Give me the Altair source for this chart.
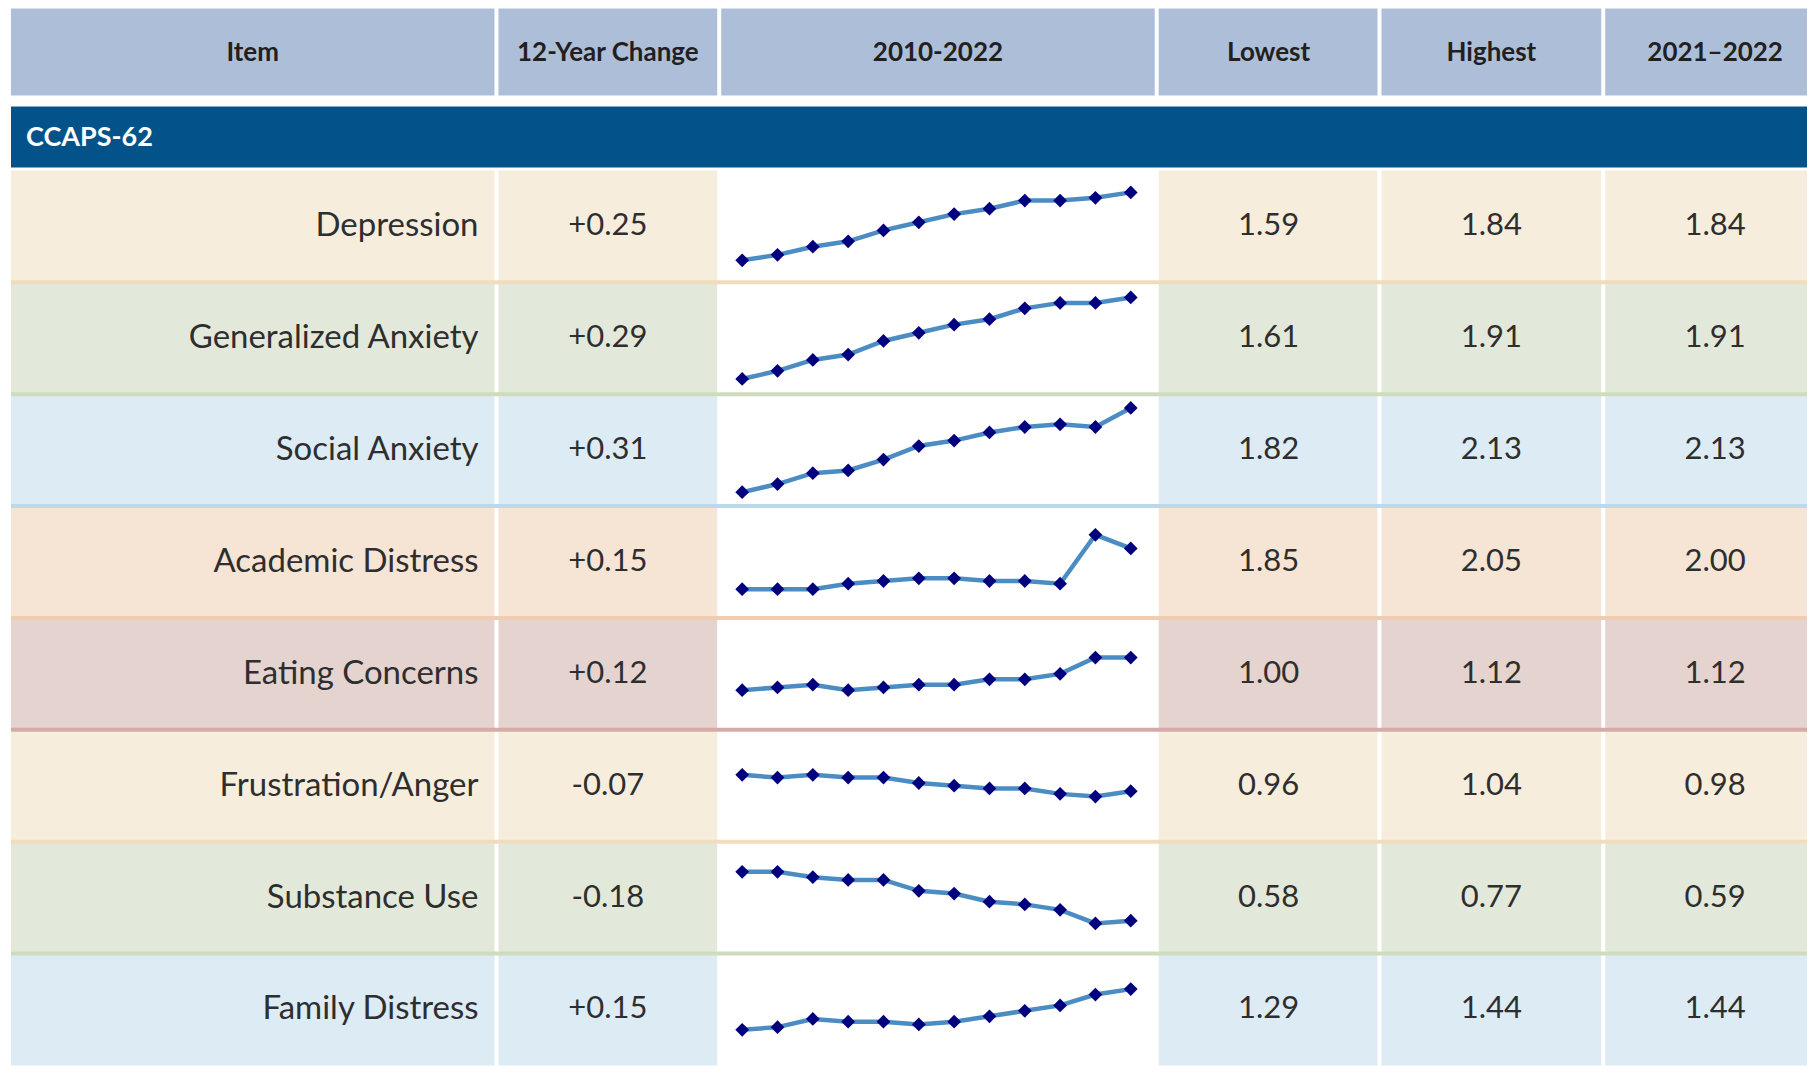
import altair as alt
import pandas as pd

# ---------------- data ----------------
items = ["Depression", "Generalized Anxiety", "Social Anxiety", "Academic Distress",
         "Eating Concerns", "Frustration/Anger", "Substance Use", "Family Distress"]
change = ["+0.25", "+0.29", "+0.31", "+0.15", "+0.12", "-0.07", "-0.18", "+0.15"]
lowest = ["1.59", "1.61", "1.82", "1.85", "1.00", "0.96", "0.58", "1.29"]
highest = ["1.84", "1.91", "2.13", "2.05", "1.12", "1.04", "0.77", "1.44"]
latest = ["1.84", "1.91", "2.13", "2.00", "1.12", "0.98", "0.59", "1.44"]

years = ["2010-11", "2011-12", "2012-13", "2013-14", "2014-15", "2015-16",
         "2016-17", "2017-18", "2018-19", "2019-20", "2020-21", "2021-22"]
trend_depression = [1.59, 1.61, 1.64, 1.66, 1.70, 1.73, 1.76, 1.78, 1.81, 1.81, 1.82, 1.84]
trend_gen_anxiety = [1.61, 1.64, 1.68, 1.70, 1.75, 1.78, 1.81, 1.83, 1.87, 1.89, 1.89, 1.91]
trend_social_anxiety = [1.82, 1.85, 1.89, 1.90, 1.94, 1.99, 2.01, 2.04, 2.06, 2.07, 2.06, 2.13]
trend_academic = [1.85, 1.85, 1.85, 1.87, 1.88, 1.89, 1.89, 1.88, 1.88, 1.87, 2.05, 2.00]
trend_eating = [1.00, 1.01, 1.02, 1.00, 1.01, 1.02, 1.02, 1.04, 1.04, 1.06, 1.12, 1.12]
trend_frustration = [1.04, 1.03, 1.04, 1.03, 1.03, 1.01, 1.00, 0.99, 0.99, 0.97, 0.96, 0.98]
trend_substance = [0.77, 0.77, 0.75, 0.74, 0.74, 0.70, 0.69, 0.66, 0.65, 0.63, 0.58, 0.59]
trend_family = [1.29, 1.30, 1.33, 1.32, 1.32, 1.31, 1.32, 1.34, 1.36, 1.38, 1.42, 1.44]
trends = [trend_depression, trend_gen_anxiety, trend_social_anxiety, trend_academic,
          trend_eating, trend_frustration, trend_substance, trend_family]

headers = ["Item", "12-Year Change", "2010-2022", "Lowest", "Highest", "2021\u20132022"]
section = "CCAPS-62"

# ---------------- styles / layout ----------------
row_bg = ["#f6eddc", "#e3e9da", "#ddebf5", "#f6e4d4", "#e4d3cf", "#f6eddc", "#e3e9da", "#ddebf5"]
row_sep = ["#f1dcbd", "#cfdcbc", "#badaeb", "#f0cdb1", "#d4aba6", "#f1dcbd", "#cfdcbc", "#badaeb"]
HEAD_BG = "#adbfd8"
BAND_BG = "#03538a"
TXT = "#2e2e2e"
FONT = "Lato"
GAP = 4
ROW_H = 112
HEAD_H = 87
HEAD_GAP = 11
BAND_H = 61
BAND_GAP = 3
cell_w = [484, 219, 434, 219, 220, 202]
x0 = []
_p = 0
for w in cell_w:
    x0.append(_p)
    _p += w + GAP
x1 = [a + w for a, w in zip(x0, cell_w)]
TOTAL_W = x1[-1]
H = ROW_H * len(items)
SPAN = ROW_H / 272.0   # value units shown per row height in sparklines

table = pd.DataFrame({"Item": items, "Change": change, "Lowest": lowest,
                      "Highest": highest, "Latest": latest})
trend_df = pd.DataFrame([
    {"Item": it, "Year": yr, "Value": v}
    for it, series in zip(items, trends) for yr, v in zip(years, series)
])
order_df = pd.DataFrame({"Item": items, "idx": list(range(len(items)))})

YSCALE = alt.Scale(domain=items, paddingInner=0, paddingOuter=0)
Y = alt.Y("Item:N", sort=items, scale=YSCALE, axis=None)
FILL = alt.Fill("Item:N", scale=alt.Scale(domain=items, range=row_bg), legend=None)

# ---------------- header ----------------
head_layers = []
for i, lbl in enumerate(headers):
    d = alt.Chart(pd.DataFrame({"label": [lbl]}))
    cx = (x0[i] + x1[i]) / 2 if i < 3 else x0[i] + 110
    head_layers.append(d.mark_rect(fill=HEAD_BG).encode(
        x=alt.value(x0[i]), x2=alt.value(x1[i]), y=alt.value(0), y2=alt.value(HEAD_H)))
    head_layers.append(d.mark_text(font=FONT, fontSize=26, fontWeight="bold",
                                   color="#231f20", align="center", baseline="middle").encode(
        x=alt.value(cx), y=alt.value(HEAD_H / 2 + 1), text="label:N"))
header = alt.layer(*head_layers).properties(width=TOTAL_W, height=HEAD_H + HEAD_GAP)

# ---------------- section band ----------------
band_d = alt.Chart(pd.DataFrame({"label": [section]}))
band = alt.layer(
    band_d.mark_rect(fill=BAND_BG).encode(
        x=alt.value(0), x2=alt.value(TOTAL_W), y=alt.value(0), y2=alt.value(BAND_H)),
    band_d.mark_text(font=FONT, fontSize=27, fontWeight="bold", color="white",
                     align="left", baseline="middle").encode(
        x=alt.value(15), y=alt.value(BAND_H / 2 + 1), text="label:N"),
).properties(width=TOTAL_W, height=BAND_H + BAND_GAP)

# ---------------- body ----------------
tb = alt.Chart(table)
body_layers = []
for i in [0, 1, 3, 4, 5]:
    body_layers.append(tb.mark_rect().encode(
        y=Y, x=alt.value(x0[i]), x2=alt.value(x1[i]), fill=FILL))

body_layers.append(tb.mark_rule(strokeWidth=4, strokeCap="square").encode(
    y=alt.Y("Item:N", sort=items, bandPosition=1, scale=YSCALE, axis=None),
    x=alt.value(2), x2=alt.value(TOTAL_W - 2),
    stroke=alt.Stroke("Item:N", scale=alt.Scale(domain=items, range=row_sep), legend=None),
).transform_filter(alt.datum.Item != items[-1]))

body_layers.append(tb.mark_text(font=FONT, fontSize=33, color=TXT, align="right",
                                baseline="middle").encode(
    y=Y, x=alt.value(x1[0] - 16), text="Item:N"))
for i, field in [(1, "Change"), (3, "Lowest"), (4, "Highest"), (5, "Latest")]:
    cx = (x0[i] + x1[i]) / 2 if i == 1 else x0[i] + 110
    body_layers.append(tb.mark_text(font=FONT, fontSize=31, color=TXT, align="center",
                                    baseline="middle").encode(
        y=Y, x=alt.value(cx), text=f"{field}:N"))

# sparklines: each row's series centred in its own row, shared value-per-pixel scale
sp = alt.Chart(trend_df).transform_joinaggregate(
    lo="min(Value)", hi="max(Value)", groupby=["Item"]
).transform_lookup(
    lookup="Item", from_=alt.LookupData(order_df, "Item", ["idx"])
).transform_calculate(
    yy=f"datum.idx * {SPAN} + {SPAN / 2} - (datum.Value - (datum.lo + datum.hi) / 2)"
)
SX = alt.X("Year:O", sort=years, axis=None,
           scale=alt.Scale(type="point", padding=0, range=[x0[2] + 21, x1[2] - 24]))
SY = alt.Y("yy:Q", axis=None,
           scale=alt.Scale(domain=[0, SPAN * len(items)], reverse=True, nice=False, zero=False))
body_layers.append(sp.mark_line(color="#4b8cc3", strokeWidth=4.5).encode(
    x=SX, y=SY, detail="Item:N"))
body_layers.append(sp.mark_point(shape="diamond", filled=True, size=190, color="#00007f",
                                 opacity=1).encode(x=SX, y=SY))

body = alt.layer(*body_layers).resolve_scale(y="independent", x="independent").properties(
    width=TOTAL_W, height=H)

chart = alt.vconcat(header, band, body, spacing=0, bounds="flush").properties(
    padding={"left": 2, "top": 0, "right": 0, "bottom": 0},
    background="white",
).configure_view(stroke=None)

chart.save("out.html", embed_options={"renderer": "svg", "actions": False})
